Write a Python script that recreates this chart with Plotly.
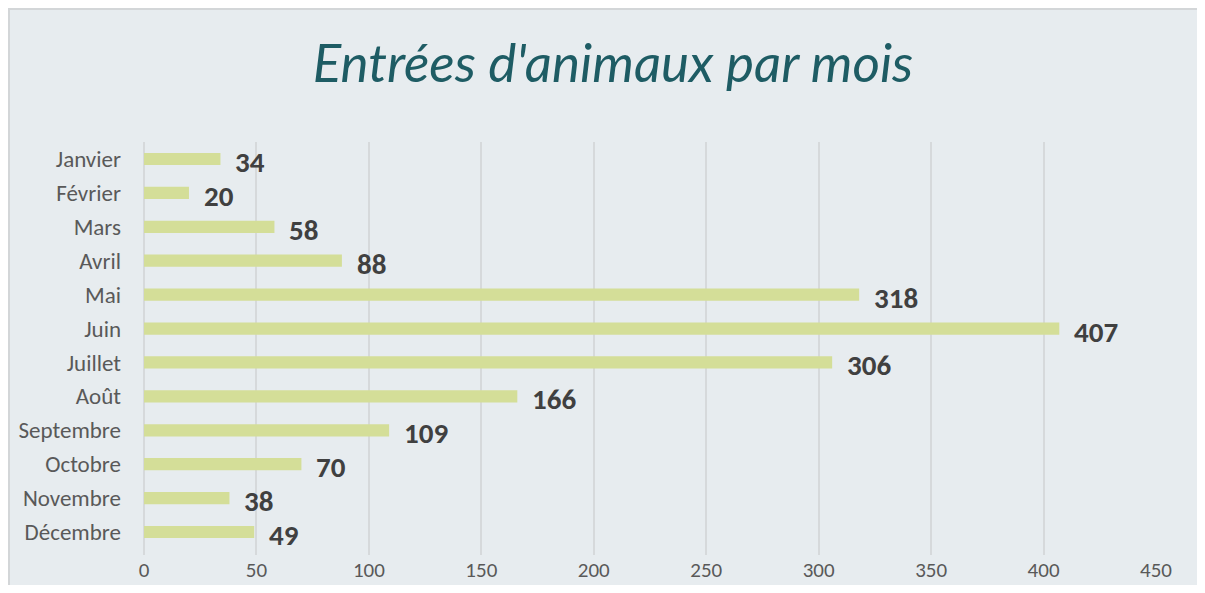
import plotly.graph_objects as go

months = ["Janvier", "Février", "Mars", "Avril", "Mai", "Juin", "Juillet",
          "Août", "Septembre", "Octobre", "Novembre", "Décembre"]
entries = [34, 20, 58, 88, 318, 407, 306, 166, 109, 70, 38, 49]
x_ticks = [0, 50, 100, 150, 200, 250, 300, 350, 400, 450]
title_text = "Entrées d'animaux par mois"

FONT = "Carlito, Calibri, Lato, sans-serif"
BG = "#E7ECEF"

fig = go.Figure()
fig.add_trace(go.Bar(
    y=months, x=entries, orientation="h",
    marker=dict(color="#D4DE98", line=dict(width=0)),
    hoverinfo="x+y",
))

for m, v in zip(months, entries):
    fig.add_annotation(
        x=v, y=m, xref="x", yref="y", text=f"<b>{v}</b>",
        showarrow=False, xanchor="left", yanchor="middle",
        xshift=13, yshift=-3,
        font=dict(family=FONT, size=29, color="#404040"),
    )

PLOT_H = 577 - 134 - 30
# chart box border (top / left edges)
fig.add_shape(type="rect", xref="paper", yref="paper",
              x0=-135.0 / 1012, x1=1.2, y0=-0.5, y1=1 + 133.0 / PLOT_H,
              fillcolor="rgba(0,0,0,0)", line=dict(color="#D3D6D8", width=2),
              layer="below")

fig.update_layout(
    width=1189, height=577,
    margin=dict(l=136, r=41, t=134, b=30),
    paper_bgcolor=BG,
    plot_bgcolor="rgba(0,0,0,0)",
    bargap=0.64,
    showlegend=False,
    title=dict(text=title_text, x=605.0 / 1189, xref="container",
               xanchor="center", y=0.9045, yref="container", yanchor="middle",
               font=dict(family="Lato, sans-serif", size=53,
                         color="#1E5C64", style="italic", weight=400)),
    xaxis=dict(range=[0, 450], tickvals=x_ticks, showgrid=True,
               gridcolor="#D6D9DB", gridwidth=1.5, zeroline=True,
               zerolinecolor="#D6D9DB", zerolinewidth=1.5,
               showline=False, ticks="", ticklen=0, automargin=False,
               tickfont=dict(family=FONT, size=21, color="#595959"),
               fixedrange=True),
    yaxis=dict(categoryorder="array", categoryarray=months[::-1],
               showgrid=False, showline=False, ticks="", ticklen=0,
               automargin=False,
               tickfont=dict(family=FONT, size=23, color="#595959"),
               fixedrange=True),
)
fig.update_yaxes(ticklabelstandoff=22)
fig.update_xaxes(ticklabelstandoff=0)

fig.write_html("out.html")
